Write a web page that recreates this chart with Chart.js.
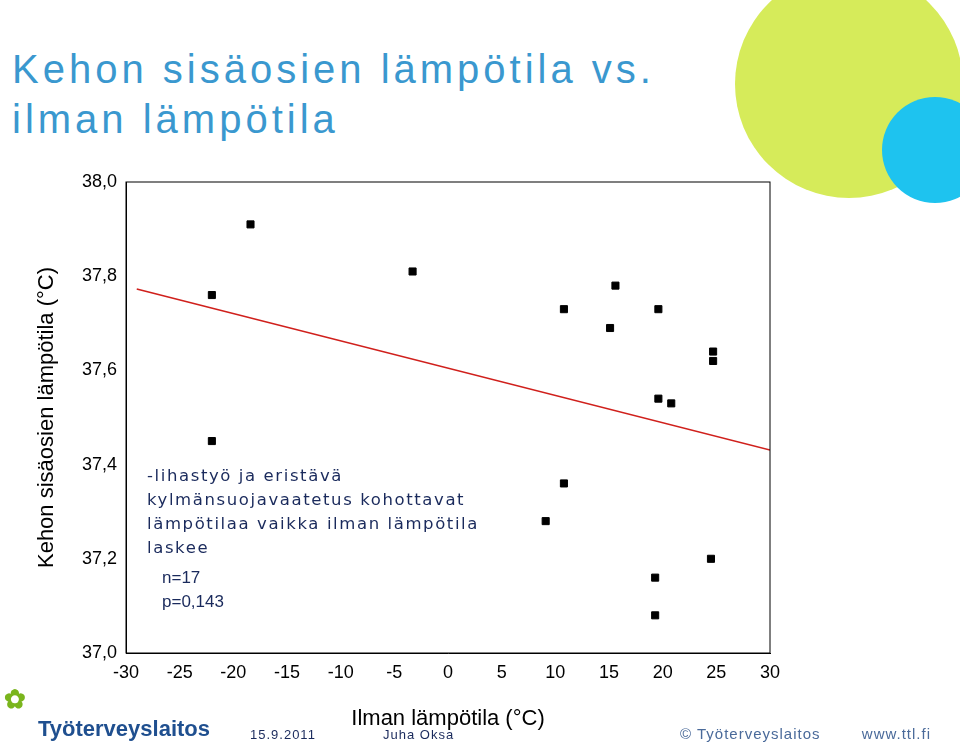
<!DOCTYPE html>
<html><head><meta charset="utf-8">
<script src="https://cdn.jsdelivr.net/npm/chart.js@4"></script>
<style>
body{margin:0;width:960px;height:746px;overflow:hidden;background:#fff;position:relative;font-family:"Liberation Sans",Arial,sans-serif}
#c{position:absolute;left:0;top:0}
.abs{position:absolute;white-space:nowrap}
</style></head><body>
<div class="abs" style="left:735px;top:-30px;width:228px;height:228px;border-radius:50%;background:#d6eb5a"></div>
<div class="abs" style="left:882px;top:97px;width:106px;height:106px;border-radius:50%;background:#1ec3ef"></div>
<div class="abs" style="left:12px;top:44px;font-size:40px;line-height:50px;color:#3a98cf;letter-spacing:4px">Kehon sisäosien lämpötila vs.<br>ilman lämpötila</div>
<canvas id="c" width="960" height="746"></canvas>
<div class="abs" style="left:147px;top:464px;font-family:'DejaVu Sans';font-size:16.5px;line-height:24px;color:#1a2a5c;letter-spacing:1.6px">-lihastyö ja eristävä<br>kylmänsuojavaatetus kohottavat<br>lämpötilaa vaikka ilman lämpötila<br>laskee</div>
<div class="abs" style="left:162px;top:566px;font-size:17px;line-height:24px;color:#1a2a5c">n=17<br>p=0,143</div>
<div class="abs" style="left:4px;top:684px;font-size:26px;font-weight:bold;color:#7ab51d">✿</div>
<div class="abs" style="left:38px;top:716px;font-size:22px;font-weight:bold;color:#1f4f8f">Työterveyslaitos</div>
<div class="abs" style="left:250px;top:727px;font-size:13px;color:#1a2a5c;letter-spacing:1px">15.9.2011</div>
<div class="abs" style="left:383px;top:727px;font-size:13px;color:#1a2a5c;letter-spacing:1px">Juha Oksa</div>
<div class="abs" style="left:680px;top:725px;font-size:15px;color:#4a6a9a;letter-spacing:1px">© Työterveyslaitos &nbsp;&nbsp;&nbsp;&nbsp;&nbsp;&nbsp; www.ttl.fi</div>
<script>
const airTemp = [-22, -18.4, -22, -3.3, 10.8, 15.6, 15.1, 19.6, 24.7, 24.7, 19.6, 20.8, 10.8, 9.1, 24.5, 19.3, 19.3];
const coreTemp = [37.76, 37.91, 37.45, 37.81, 37.73, 37.78, 37.69, 37.73, 37.64, 37.62, 37.54, 37.53, 37.36, 37.28, 37.20, 37.16, 37.08];
const fitX = [-29, 30];
const fitY = [37.773, 37.431];

const boxPlugin = {
  id: 'box',
  afterDraw(chart) {
    const a = chart.chartArea, ctx = chart.ctx;
    ctx.save(); ctx.strokeStyle = '#000'; ctx.lineWidth = 1;
    ctx.strokeRect(a.left, a.top, a.right - a.left, a.bottom - a.top);
    ctx.restore();
  }
};

new Chart(document.getElementById('c'), {
  type: 'scatter',
  data: {
    datasets: [
      { data: airTemp.map((x, i) => ({ x, y: coreTemp[i] })), pointStyle: 'rect', pointRadius: 5, backgroundColor: '#000', borderColor: '#000' },
      { type: 'line', data: fitX.map((x, i) => ({ x, y: fitY[i] })), borderColor: '#d0201c', borderWidth: 1.5, pointRadius: 0 }
    ]
  },
  options: {
    responsive: false, animation: false,
    layout: { padding: { left: 34, top: 182, right: 190, bottom: 14 } },
    plugins: { legend: { display: false }, tooltip: { enabled: false } },
    scales: {
      x: {
        min: -30, max: 30,
        ticks: { stepSize: 5, color: '#000', font: { size: 18, family: 'Liberation Sans' } },
        grid: { display: false, drawTicks: true, tickLength: 6, color: '#000' },
        border: { color: '#000' },
        title: { display: true, text: 'Ilman lämpötila (°C)', color: '#000', font: { size: 22, family: 'Liberation Sans' }, padding: 0 },
        afterFit: s => { s.height = 79; }
      },
      y: {
        min: 37.0, max: 38.0,
        ticks: { stepSize: 0.1, color: '#000', font: { size: 18, family: 'Liberation Sans' },
          callback: v => Math.round(v * 10) % 2 === 0 ? v.toFixed(1).replace('.', ',') : '' },
        grid: { display: false, drawTicks: true, tickLength: 6, color: '#000' },
        border: { color: '#000' },
        title: { display: true, text: 'Kehon sisäosien lämpötila (°C)', color: '#000', font: { size: 22, family: 'Liberation Sans' }, padding: 0 },
        afterFit: s => { s.width = 92; }
      }
    }
  },
  plugins: [boxPlugin]
});
</script>
</body></html>
